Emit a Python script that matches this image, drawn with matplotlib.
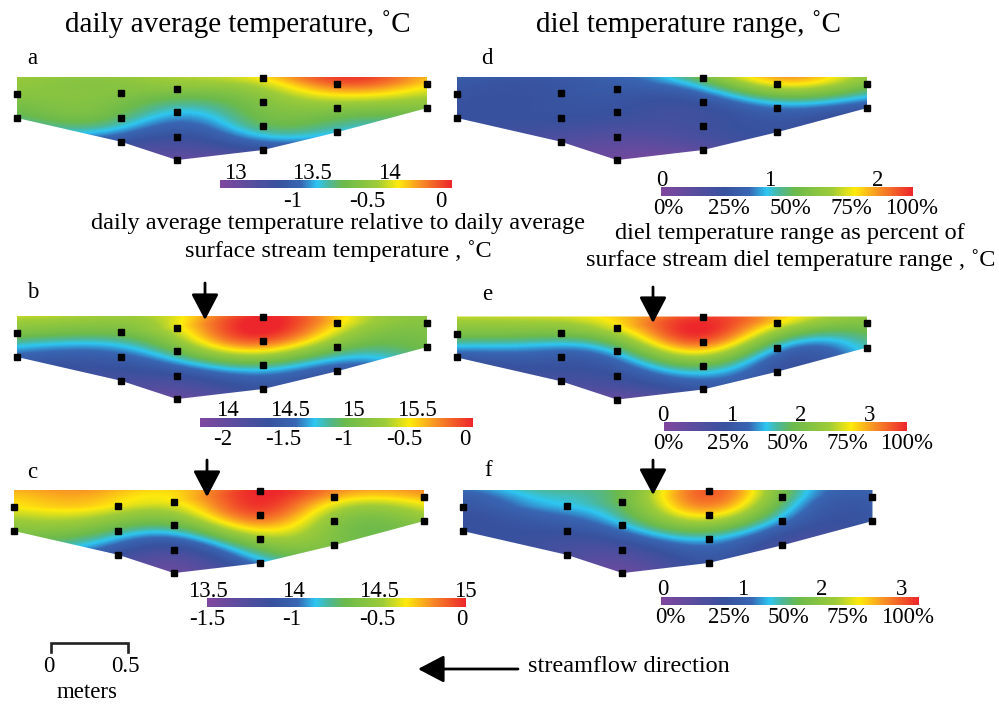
import numpy as np
import matplotlib
matplotlib.use("Agg")
import matplotlib.pyplot as plt
from matplotlib.colors import LinearSegmentedColormap
from matplotlib.patches import Polygon

plt.rcParams['font.family'] = ['Liberation Serif', 'DejaVu Serif']

# ---------------- data ----------------
# sensor columns: horizontal position (m) and sensor depths (m) below stream surface
col_x = [0.00, 0.67, 1.03, 1.585, 2.06, 2.64]
col_depths = [[0.11, 0.264],
              [0.105, 0.262, 0.417],
              [0.075, 0.223, 0.384, 0.535],
              [0.006, 0.161, 0.318, 0.47],
              [0.043, 0.20, 0.356],
              [0.043, 0.20]]

# sensor values (column by column, top to bottom)
temp_a = [13.84, 13.66, 13.81, 13.66, 13.31, 13.84, 13.55, 13.28, 13.05,
          14.08, 13.81, 13.66, 13.28, 14.30, 13.84, 13.55, 14.11, 13.81]
temp_b = [15.05, 14.50, 15.02, 14.50, 14.22, 15.40, 14.97, 14.33, 13.96,
          15.94, 15.79, 14.86, 14.35, 15.51, 15.04, 14.43, 15.12, 14.97]
temp_c = [14.66, 14.40, 14.64, 14.25, 13.87, 14.66, 14.32, 13.83, 13.61,
          15.01, 14.90, 14.48, 14.07, 14.77, 14.45, 14.37, 14.76, 14.45]
range_d = [0.63, 0.58, 0.63, 0.58, 0.35, 0.70, 0.58, 0.35, 0.12,
           1.30, 0.65, 0.51, 0.28, 1.80, 0.85, 0.58, 1.40, 0.68]
range_e = [2.06, 1.08, 2.06, 1.08, 0.72, 2.66, 1.61, 0.90, 0.30,
           3.44, 3.26, 1.85, 0.97, 2.77, 1.54, 0.97, 2.13, 1.61]
range_f = [0.88, 0.79, 1.34, 0.85, 0.56, 1.76, 1.34, 0.62, 0.23,
           2.99, 2.50, 1.34, 0.85, 1.76, 1.21, 0.62, 1.01, 0.88]

# colour scale limits (top scale) and relative (bottom scale) limits
scale_a = (12.90, 14.41); rel_a = (-1.493, 0.074)
scale_b = (13.787, 15.942); rel_b = (-2.19, 0.066)
scale_c = (13.492, 15.006); rel_c = (-1.479, 0.024)
scale_d = (-0.006, 2.331); rel_d = (-2.9, 100.4)
scale_e = (0.019, 3.545); rel_e = (-2.1, 95.5)
scale_f = (-0.025, 3.217); rel_f = (-3.9, 104.9)

ticks_a = [13, 13.5, 14]; rticks_a = [-1, -0.5, 0]
ticks_b = [14, 14.5, 15, 15.5]; rticks_b = [-2, -1.5, -1, -0.5, 0]
ticks_c = [13.5, 14, 14.5, 15]; rticks_c = [-1.5, -1, -0.5, 0]
ticks_d = [0, 1, 2]; pticks = [0, 25, 50, 75, 100]
ticks_e = [0, 1, 2, 3]
ticks_f = [0, 1, 2, 3]

# ---------------- helpers ----------------
W, H = 999, 708
S = 155.3  # pixels per metre

fig = plt.figure(figsize=(W / 100, H / 100), dpi=100)


def rect(x, y, w, h):
    return [x / W, 1 - (y + h) / H, w / W, h / H]


cmap = LinearSegmentedColormap.from_list("stream", [
    (0.00, (0.50, 0.28, 0.62)),
    (0.12, (0.36, 0.30, 0.62)),
    (0.25, (0.22, 0.32, 0.62)),
    (0.35, (0.22, 0.40, 0.70)),
    (0.42, (0.18, 0.78, 0.95)),
    (0.47, (0.30, 0.72, 0.60)),
    (0.53, (0.42, 0.73, 0.30)),
    (0.68, (0.62, 0.80, 0.22)),
    (0.77, (1.00, 0.92, 0.05)),
    (0.87, (0.97, 0.55, 0.15)),
    (1.00, (0.93, 0.15, 0.17)),
])

sx = np.concatenate([[cx] * len(d) for cx, d in zip(col_x, col_depths)])
sz = np.concatenate(col_depths)
top_depth = [d[0] for d in col_depths]
outline = [(0.0, 0.0), (col_x[-1], 0.0)] + [(cx, d[-1]) for cx, d in
                                               zip(col_x[::-1], col_depths[::-1])]


def interp_field(vals, gx, gz, lx=0.42, lz=0.17):
    v = np.asarray(vals, float)
    A = np.c_[np.ones_like(sz), sz]
    beta = np.linalg.lstsq(A, v, rcond=None)[0]
    r = v - A @ beta

    def k(px, pz, qx, qz):
        dx = (px[:, None] - qx[None, :]) / lx
        dz = (pz[:, None] - qz[None, :]) / lz
        return np.exp(-0.5 * (dx ** 2 + dz ** 2))

    K = k(sx, sz, sx, sz) + 1e-6 * np.eye(len(sx))
    w = np.linalg.solve(K, r)
    fx, fz = gx.ravel(), gz.ravel()
    # damp the depth trend above the shallowest sensors
    zt = np.interp(fx, col_x, top_depth)
    zeff = np.where(fz < zt, zt - 0.5 * (zt - fz), fz)
    f = beta[0] + beta[1] * zeff + k(fx, fz, sx, sz) @ w
    return f.reshape(gx.shape)


def panel(ox, oy, vals, lims):
    ax = fig.add_axes(rect(ox - 0.1 * S, oy - 0.1 * S, 2.84 * S, 0.72 * S))
    ax.set_xlim(-0.1, 2.74)
    ax.set_ylim(0.62, -0.1)
    ax.axis('off')
    xs = np.linspace(0, col_x[-1], 400)
    zs = np.linspace(0, max(sz), 140)
    gx, gz = np.meshgrid(xs, zs)
    fld = interp_field(vals, gx, gz)
    im = ax.imshow(fld, extent=(0, col_x[-1], max(sz), 0), origin='upper',
                   cmap=cmap, vmin=lims[0], vmax=lims[1], aspect='auto',
                   interpolation='bilinear')
    poly = Polygon(outline, closed=True, facecolor='none', edgecolor='none',
                   transform=ax.transData)
    ax.add_patch(poly)
    im.set_clip_path(poly)
    ax.plot(sx, sz, 's', color='k', ms=4.6, clip_on=False)
    return ax


def fmt(t):
    return f"{t:g}"


def colorbar(x, y, w, h, lims, ticks, rlims, rticks, pct=False):
    ax = fig.add_axes(rect(x, y, w, h))
    ax2 = ax.twiny()
    grad = np.linspace(lims[0], lims[1], 256)[None, :]
    ax.imshow(grad, extent=(lims[0], lims[1], 0, 1), aspect='auto',
              cmap=cmap, vmin=lims[0], vmax=lims[1])
    ax.set_xlim(*lims)
    ax.set_yticks([])
    for s in ax.spines.values():
        s.set_visible(False)
    ax.xaxis.set_ticks_position('top')
    ax.set_xticks(ticks, labels=[fmt(t) for t in ticks])
    ax.tick_params(axis='x', length=0, pad=-2.5, labelsize=16.5,
                   labeltop=True, labelbottom=False)
    ax2.set_xlim(*rlims)
    ax2.xaxis.set_ticks_position('bottom')
    labels = [f"{t}%" for t in rticks] if pct else [fmt(t) for t in rticks]
    ax2.set_xticks(rticks, labels=labels)
    ax2.tick_params(axis='x', length=0, pad=1.5, labelsize=16.5,
                    labelbottom=True, labeltop=False)
    for s in ax2.spines.values():
        s.set_visible(False)


# ---------------- panels ----------------
panel(17, 77, temp_a, scale_a)
panel(457, 77, range_d, scale_d)
panel(17, 316, temp_b, scale_b)
panel(457, 316.5, range_e, scale_e)
panel(14, 490, temp_c, scale_c)
panel(462.5, 490, range_f, scale_f)

colorbar(220, 180.5, 232, 8, scale_a, ticks_a, rel_a, rticks_a)
colorbar(661, 187.3, 252, 8.7, scale_d, ticks_d, rel_d, pticks, pct=True)
colorbar(200, 417.7, 273, 9, scale_b, ticks_b, rel_b, rticks_b)
colorbar(663, 422.3, 244, 8.4, scale_e, ticks_e, rel_e, pticks, pct=True)
colorbar(207, 598.3, 259, 8.4, scale_c, ticks_c, rel_c, rticks_c)
colorbar(660.7, 596.7, 258, 8.6, scale_f, ticks_f, rel_f, pticks, pct=True)

# ---------------- annotations ----------------
ov = fig.add_axes([0, 0, 1, 1])
ov.set_xlim(0, W)
ov.set_ylim(H, 0)
ov.axis('off')
ov.patch.set_visible(False)

ov.text(238, 24, "daily average temperature, ˚C", fontsize=21,
        ha='center', va='center')
ov.text(689, 24, "diel temperature range, ˚C", fontsize=21,
        ha='center', va='center')

for lab, (x, y) in zip("abcdef", [(32, 58), (33, 293), (32, 472),
                                  (487, 58), (487, 295), (488, 470)]):
    ov.text(x, y, lab, fontsize=16.5, ha='center', va='center')

ov.text(338, 223, "daily average temperature relative to daily average",
        fontsize=17.5, ha='center', va='center')
ov.text(338, 251, "surface stream temperature , ˚C",
        fontsize=17.5, ha='center', va='center')
ov.text(790, 233, "diel temperature range as percent of",
        fontsize=17.5, ha='center', va='center')
ov.text(791, 260, "surface stream diel temperature range , ˚C",
        fontsize=17.5, ha='center', va='center')

arrow_style = dict(arrowstyle='-|>,head_length=0.8,head_width=0.42',
                   color='k', lw=2.0, mutation_scale=20,
                   shrinkA=0, shrinkB=0)
for (x, y0, y1) in [(205, 283, 320), (653, 287, 323),
                    (207, 460, 497), (653, 460, 495)]:
    ov.annotate('', xy=(x, y1), xytext=(x, y0), arrowprops=arrow_style)

# streamflow direction
ov.annotate('', xy=(418, 669), xytext=(518, 669), arrowprops=arrow_style)
ov.text(528, 667, "streamflow direction", fontsize=17.5, ha='left',
        va='center')

# scale bar (0.5 m)
x0, x1 = 50.7, 50.7 + 0.5 * S
ov.plot([x0, x0, x1, x1], [652, 643, 643, 652], color='#222222', lw=1.9,
        solid_joinstyle='miter')
ov.text(x0 - 2, 667, "0", fontsize=16.5, ha='center', va='center')
ov.text(x1 - 3, 667, "0.5", fontsize=16.5, ha='center', va='center')
ov.text(87, 693, "meters", fontsize=16.5, ha='center', va='center')

fig.savefig("out.png", dpi=100)
